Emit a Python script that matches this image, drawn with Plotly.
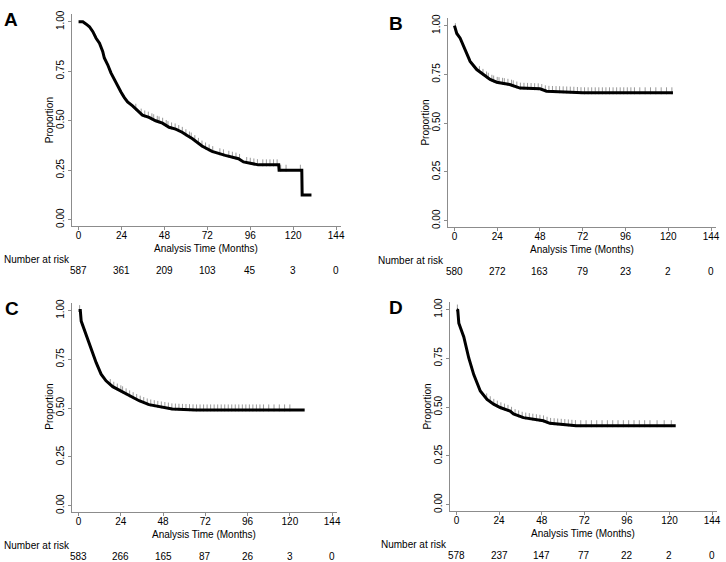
import numpy as np
import plotly.graph_objects as go

W, H = 726, 562

# Kaplan-Meier curves (months, proportion)
a_time = [0, 2.4, 4.3, 6.1, 8, 9.8, 11.7, 13.5, 14.4, 16.3, 18.1, 20, 21.9, 23.7, 25.6,
          27.4, 30.2, 32.9, 35.7, 39.4, 43.1, 46.9, 50.6, 54.3, 57.9, 60.7, 63.5, 69,
          74.6, 82, 89.4, 92.2, 100.6, 111.9, 112.1, 124.8, 125, 130.2]
a_surv = [1.0, 1.0, 0.988, 0.975, 0.95, 0.917, 0.892, 0.85, 0.817, 0.783, 0.742, 0.708,
          0.675, 0.645, 0.617, 0.595, 0.575, 0.55, 0.528, 0.517, 0.50, 0.488, 0.467, 0.458,
          0.442, 0.425, 0.41, 0.372, 0.345, 0.325, 0.308, 0.292, 0.277, 0.277, 0.25,
          0.25, 0.125, 0.125]
a_cens = [32, 35, 37, 39, 41, 42, 44, 45, 47, 49, 50, 52, 54, 56, 58, 60, 62, 63, 65, 67,
          69, 71, 73, 75, 79, 81, 84, 86, 88, 90, 94, 96, 98, 100, 103, 105, 107, 109, 111,
          113, 116, 124]

b_time = [0, 1.3, 3.2, 6, 8.8, 12.5, 16.2, 20, 23.7, 31, 36.8, 48, 51.7, 66.6, 72, 122.6]
b_surv = [1.0, 0.96, 0.936, 0.876, 0.817, 0.775, 0.749, 0.724, 0.71, 0.698, 0.68, 0.676,
          0.664, 0.659, 0.656, 0.656]
b_cens = [0.5, 14, 16, 18, 19, 21, 22, 24, 25, 27, 28, 30, 32, 33, 35, 37, 39, 41, 43, 45,
          47, 49, 51, 53, 55, 57, 59, 61, 63, 65, 67, 69, 71, 73, 75, 77, 79, 81, 83, 85,
          87, 89, 91, 93, 95, 97, 99, 101, 104, 107, 110, 113, 116, 119, 122]

c_time = [0, 1, 1.5, 4.3, 7.1, 10, 12.8, 15.6, 19.4, 24, 28.8, 34.4, 40, 45.7, 51.3, 53.2,
          66.4, 128.4]
c_surv = [1.0, 1.0, 0.946, 0.878, 0.80, 0.733, 0.674, 0.64, 0.61, 0.589, 0.564, 0.538,
          0.518, 0.508, 0.50, 0.496, 0.491, 0.491]
c_cens = [0.6, 18, 20, 22, 24, 25, 27, 29, 31, 33, 35, 37, 39, 41, 43, 45, 47, 49, 51, 53,
          55, 57, 59, 61, 63, 65, 67, 69, 71, 73, 75, 77, 79, 81, 83, 85, 87, 89, 91, 93,
          95, 97, 99, 101, 103, 105, 108, 111, 114, 117, 120]

d_time = [0, 0.7, 1.3, 4.1, 6.9, 9.7, 13.4, 17.2, 20.9, 24.6, 30.2, 32.1, 37.7, 48.9, 52.6,
          61.9, 67.5, 123.5]
d_surv = [1.0, 0.997, 0.93, 0.86, 0.752, 0.667, 0.583, 0.54, 0.515, 0.498, 0.48, 0.465,
          0.446, 0.43, 0.417, 0.41, 0.405, 0.405]
d_cens = [0.5, 17, 19, 21, 23, 25, 27, 29, 31, 33, 35, 37, 39, 41, 43, 45, 47, 49, 51, 53,
          55, 57, 59, 61, 63, 65, 67, 70, 73, 76, 79, 82, 85, 88, 91, 94, 97, 100, 103,
          106, 109, 113, 117, 121]

risk_times = [0, 24, 48, 72, 96, 120, 144]
a_risk = [587, 361, 209, 103, 45, 3, 0]
b_risk = [580, 272, 163, 79, 23, 2, 0]
c_risk = [583, 266, 165, 87, 26, 3, 0]
d_risk = [578, 237, 147, 77, 22, 2, 0]

# pixel boxes in the 726x562 picture
panels = [
    dict(label="A", t=a_time, s=a_surv, c=a_cens, r=a_risk,
         px=(72.7, 342.5), py=(10, 224), lx=2, letter_x=2),
    dict(label="B", t=b_time, s=b_surv, c=b_cens, r=b_risk,
         px=(450.7, 719.5), py=(14, 225), lx=378, letter_x=389),
    dict(label="C", t=c_time, s=c_surv, c=c_cens, r=c_risk,
         px=(72.8, 338.4), py=(302, 513), lx=2, letter_x=3),
    dict(label="D", t=d_time, s=d_surv, c=d_cens, r=d_risk,
         px=(452.8, 720.5), py=(301, 512), lx=381, letter_x=389),
]

FONT = "Arial, Liberation Sans, sans-serif"
AXC = "#8c8c8c"


def fx(p):
    return p / W


def fy(p):
    return 1 - p / H


def txt(text, x, y, xanchor="center", **kw):
    return dict(text=text, x=x, y=y, xref=kw.pop("xref", "paper"), yref="paper",
                xanchor=xanchor, yanchor=kw.pop("yanchor", "middle"), showarrow=False,
                font=dict(family=FONT, size=kw.pop("size", 10), color="black"), **kw)


fig = go.Figure()
annotations = []

for i, p in enumerate(panels):
    n = "" if i == 0 else str(i + 1)
    xa, ya = "x" + n, "y" + n

    # censor ticks sit on top of the curve
    cy = np.interp(p["c"], p["t"], p["s"]) + 0.01
    fig.add_trace(go.Scatter(
        x=p["c"], y=cy, mode="markers", xaxis=xa, yaxis=ya,
        marker=dict(symbol="line-ns", size=5, line=dict(width=1, color="#9a9a9a")),
        showlegend=False, hoverinfo="skip"))
    fig.add_trace(go.Scatter(
        x=p["t"], y=p["s"], mode="lines", xaxis=xa, yaxis=ya,
        line=dict(color="black", width=3), showlegend=False))

    axis_common = dict(showgrid=False, zeroline=False, showline=True, linecolor=AXC,
                       linewidth=1, ticks="outside", tickcolor=AXC, ticklen=3,
                       tickfont=dict(family=FONT, size=10, color="black"))
    fig.layout["xaxis" + n] = dict(
        domain=[fx(p["px"][0]), fx(p["px"][1])], range=[-3.5, 146.5],
        tickvals=risk_times, anchor=ya, ticklabelstandoff=-3, **axis_common)
    fig.layout["yaxis" + n] = dict(
        domain=[fy(p["py"][1]), fy(p["py"][0])], range=[-0.03, 1.04],
        tickvals=[0, 0.25, 0.5, 0.75, 1.0], ticktext=["0.00", "0.25", "0.50", "0.75", "1.00"],
        tickangle=-90, anchor=xa, **axis_common)

    x0, x1 = p["px"]
    y0, y1 = p["py"]
    annotations += [
        txt("<b>%s</b>" % p["label"], fx(p["letter_x"]), fy(y0 - 7), xanchor="left",
            yanchor="top", size=19),
        txt("Proportion", fx(x0 - 23), fy((y0 + y1) / 2), textangle=-90),
        txt("Analysis Time (Months)", fx((x0 + x1) / 2), fy(y1 + 23.5)),
        txt("Number at risk", fx(p["lx"]), fy(y1 + 34.5), xanchor="left"),
    ]
    for t, v in zip(risk_times, p["r"]):
        annotations.append(txt(str(v), t, fy(y1 + 45), xref=xa))

fig.update_layout(width=W, height=H, margin=dict(l=0, r=0, t=0, b=0),
                  plot_bgcolor="white", paper_bgcolor="white",
                  annotations=annotations)

# drop the default 8px page margin so the figure fills the window
fig.write_html("out.html", config={"displayModeBar": False},
               post_script="document.body.style.margin='0';")
